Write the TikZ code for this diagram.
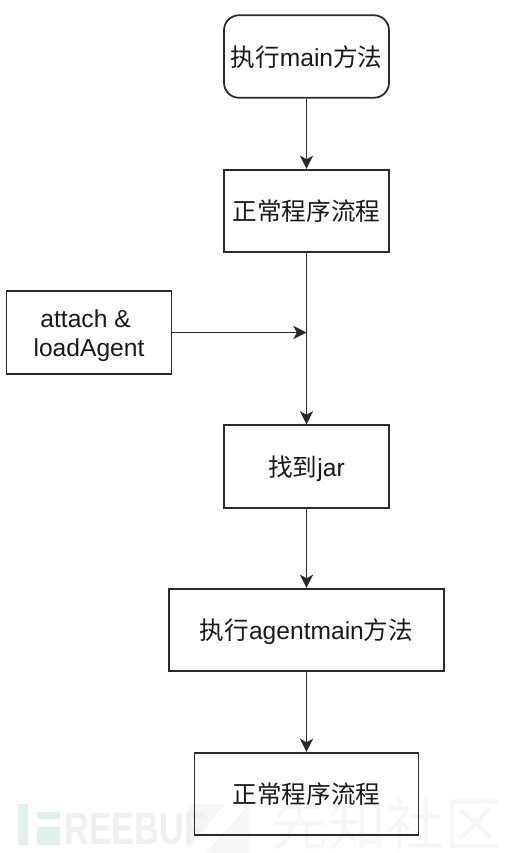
\documentclass[tikz,border=0pt]{standalone}
\usepackage{fontspec}
\usepackage{xcolor}
\usetikzlibrary{arrows.meta}
\setmainfont{Liberation Sans}
\newfontfamily\cjk{Noto Sans CJK SC}
\definecolor{linegray}{HTML}{2A2A2A}
\definecolor{markgreen}{HTML}{E2F0EA}
\definecolor{markgray}{HTML}{F0F0F0}
\definecolor{markpale}{HTML}{F6F6F6}
\tikzset{
    flowbox/.style={draw=linegray, line width=1pt, minimum height=1.65cm, align=center,
        inner sep=0pt, font=\fontsize{14}{16.5}\selectfont, text=black!90},
    flowline/.style={flowbox, text height=12.5pt, text depth=1.5pt},
    flowarrow/.style={draw=linegray, line width=1pt, -{Stealth[length=7.5pt, width=7.5pt, inset=2pt]}},
    marktext/.style={inner sep=0pt, anchor=west}
}

\begin{document}
\begin{tikzpicture}[x=0.02cm, y=-0.02cm]
    \useasboundingbox (0, 0) rectangle (528, 853);
    
    % 水印
    \fill[markgreen] (18, 804) rectangle (28, 845);
    \fill[markgreen] (37, 812) rectangle (60, 819);
    \fill[markgreen] (37, 827) rectangle (60, 845);
    \fill[markpale] (188, 804) -- (225, 804) -- (188, 850) -- cycle;
    \fill[markpale] (250, 804) -- (250, 853) -- (205, 853) -- cycle;
    \node[marktext, text=markgray, xscale=0.75] (markfree) at (64, 829)
        {\fontsize{26}{26}\selectfont\bfseries REEBUF};
    \node[marktext, text=markpale] (markxz) at (270, 824)
        {\fontsize{33}{33}\selectfont\cjk 先知社区};
    
    % 流程框
    \node[flowline, rounded corners=0.3cm, minimum width=3.3cm] (start) at (306.5, 56.5)
        {{\cjk 执行}main{\cjk 方法}};
    \node[flowline, minimum width=3.3cm] (normal) at (306.5, 211)
        {\cjk 正常程序流程};
    \node[flowbox, text height=30.6pt, minimum width=3.3cm] (attach) at (89, 332.5)
        {attach \&\rule{3.9pt}{0pt}\\loadAgent};
    \node[flowline, minimum width=3.3cm] (jar) at (306.5, 466.5)
        {{\cjk 找到}jar};
    \node[flowline, minimum width=5.5cm] (agentmain) at (306.5, 630)
        {{\cjk 执行}agentmain{\cjk 方法}};
    \node[flowline, minimum width=4.48cm] (finish) at (306.5, 794)
        {\cjk 正常程序流程};
    
    % 箭头
    \coordinate (merge) at (306.5, 332.5);
    \draw[flowarrow] (start) -- (normal);
    \draw[flowarrow] (normal) -- (jar);
    \draw[flowarrow] (attach) -- (merge);
    \draw[flowarrow] (jar) -- (agentmain);
    \draw[flowarrow] (agentmain) -- (finish);
\end{tikzpicture}
\end{document}
